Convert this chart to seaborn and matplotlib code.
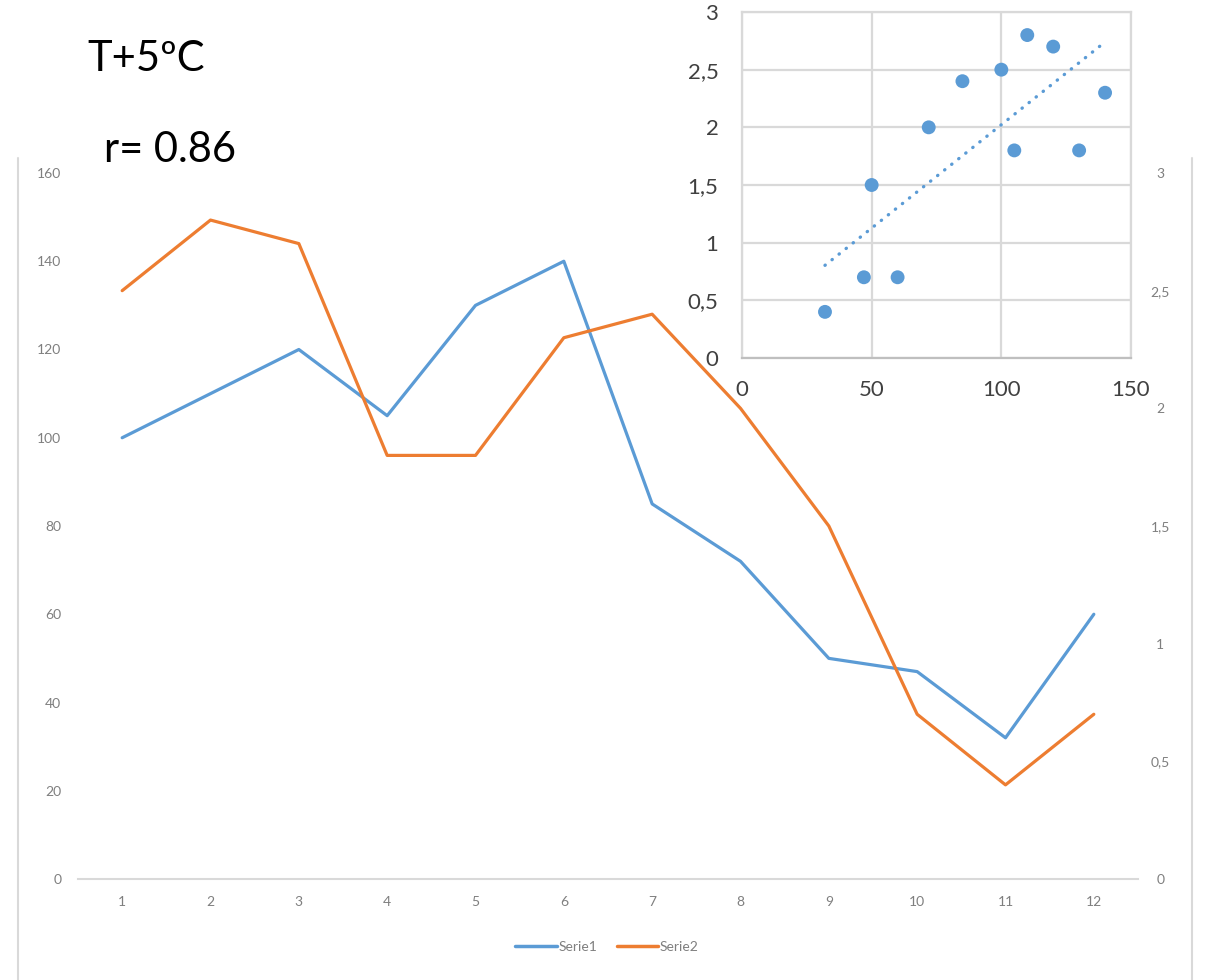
import numpy as np
import pandas as pd
import matplotlib
matplotlib.use("Agg")
import matplotlib.pyplot as plt
from matplotlib.ticker import FuncFormatter
from matplotlib.lines import Line2D
import seaborn as sns

# ---- data ----
months = list(range(1, 13))
serie1 = [100, 110, 120, 105, 130, 140, 85, 72, 50, 47, 32, 60]
serie2 = [2.5, 2.8, 2.7, 1.8, 1.8, 2.3, 2.4, 2.0, 1.5, 0.7, 0.4, 0.7]
left_ticks = [0, 20, 40, 60, 80, 100, 120, 140, 160]
right_ticks = [0, 0.5, 1, 1.5, 2, 2.5, 3]
inset_xticks = [0, 50, 100, 150]
inset_yticks = [0, 0.5, 1, 1.5, 2, 2.5, 3]
title_text = "T+5ºC"
r_text = "r= 0.86"
series_names = ["Serie1", "Serie2"]

BLUE = "#5B9BD5"
ORANGE = "#ED7D31"
GRID = "#D9D9D9"
TICK_MAIN = "#7F7F7F"
TICK_INSET = "#404040"

sns.set_theme(style="white")
plt.rcParams["font.family"] = ["Lato", "DejaVu Sans"]

W, H = 1211, 980
fig = plt.figure(figsize=(W / 100, H / 100), dpi=100)
fig.patch.set_facecolor("white")

def comma(v, pos=None):
    s = f"{v:g}"
    return s.replace(".", ",")

# ---- main chart ----
L, R, T, B = 78, 1138, 173, 879
ax = fig.add_axes([L / W, 1 - B / H, (R - L) / W, (B - T) / H])
df = pd.DataFrame({"mes": months, "s1": serie1, "s2": serie2})
sns.lineplot(data=df, x="mes", y="s1", ax=ax, color=BLUE, linewidth=2.3)
ax.set_xlim(0.5, 12.5)
ax.set_ylim(0, 160)
ax.set_yticks(left_ticks)
ax.set_xticks(months)
ax.set_xlabel("")
ax.set_ylabel("")
for sp in ["left", "right", "top"]:
    ax.spines[sp].set_visible(False)
ax.spines["bottom"].set_color(GRID)
ax.spines["bottom"].set_linewidth(1.5)
ax.tick_params(axis="both", length=0, labelsize=10, labelcolor=TICK_MAIN)
ax.tick_params(axis="y", pad=12)
ax.tick_params(axis="x", pad=12)
ax.patch.set_alpha(0)

ax2 = ax.twinx()
sns.lineplot(data=df, x="mes", y="s2", ax=ax2, color=ORANGE, linewidth=2.3)
ax2.set_ylim(0, 3)
ax2.set_yticks(right_ticks)
ax2.yaxis.set_major_formatter(FuncFormatter(comma))
ax2.set_ylabel("")
for sp in ax2.spines.values():
    sp.set_visible(False)
ax2.tick_params(axis="y", length=0, labelsize=10, labelcolor=TICK_MAIN, pad=16)
for lbl in ax2.get_yticklabels():
    lbl.set_ha("center")

handles = [Line2D([0], [0], color=BLUE, lw=2.5), Line2D([0], [0], color=ORANGE, lw=2.5)]
fig.legend(handles, series_names, loc="center", bbox_to_anchor=(607 / W, 1 - 947 / H),
           ncol=2, frameon=False, fontsize=10, handlelength=3.0, handletextpad=0.1,
           columnspacing=1.4, labelcolor=TICK_MAIN)

# chart frame side borders
fig.add_artist(Line2D([18 / W, 18 / W], [0, 1 - 158 / H], color=GRID, lw=1.5))
fig.add_artist(Line2D([1192 / W, 1192 / W], [0, 1 - 158 / H], color=GRID, lw=1.5))

# ---- annotations ----
fig.text(87 / W, 1 - 71 / H, title_text, fontsize=30, color="black", ha="left", va="baseline")
fig.text(104 / W, 1 - 162 / H, r_text, fontsize=30, color="black", ha="left", va="baseline")

# ---- inset scatter ----
iL, iR, iT, iB = 742, 1131, 12, 358
axi = fig.add_axes([iL / W, 1 - iB / H, (iR - iL) / W, (iB - iT) / H])
axi.set_zorder(5)
axi.set_facecolor("white")
sns.scatterplot(x=serie1, y=serie2, ax=axi, color=BLUE, s=100, edgecolor="none", zorder=4)
sns.regplot(x=np.array(serie1), y=np.array(serie2), ax=axi, scatter=False, ci=None, truncate=True,
            line_kws=dict(color=BLUE, lw=2.4, linestyle=(0, (0.1, 2.6)), dash_capstyle="round"))
axi.set_xlim(0, 150)
axi.set_ylim(0, 3)
axi.set_xticks(inset_xticks)
axi.set_yticks(inset_yticks)
axi.yaxis.set_major_formatter(FuncFormatter(comma))
axi.grid(True, color=GRID, lw=1.6)
axi.set_axisbelow(True)
for sp in axi.spines.values():
    sp.set_color(GRID)
    sp.set_linewidth(1.6)
axi.spines["bottom"].set_color("#BFBFBF")
axi.tick_params(axis="both", length=0, labelsize=16, labelcolor=TICK_INSET)
axi.tick_params(axis="y", pad=17)
axi.tick_params(axis="x", pad=16)
axi.set_xlabel("")
axi.set_ylabel("")

fig.savefig("out.png", dpi=100, facecolor="white")
